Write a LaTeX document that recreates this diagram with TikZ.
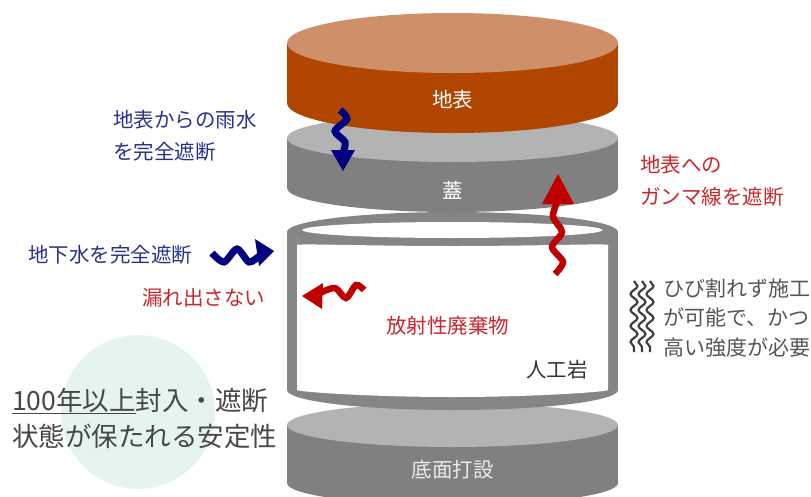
\documentclass[tikz,border=0pt]{standalone}
\usepackage{fontspec}
\setmainfont{Noto Sans CJK JP}
\usepackage{xcolor}
\usetikzlibrary{
	decorations.pathmorphing,   %装饰线(波浪)
	positioning        %定位
}
%颜色
\definecolor{soilTop}{RGB}{207,143,104}
\definecolor{soilSide}{RGB}{176,70,0}
\definecolor{greyTop}{RGB}{179,179,179}
\definecolor{greySide}{RGB}{128,128,128}
\definecolor{ringGrey}{RGB}{133,133,133}
\definecolor{navyArrow}{RGB}{0,0,128}
\definecolor{navyText}{RGB}{40,50,140}
\definecolor{redArrow}{RGB}{192,0,0}
\definecolor{redText}{RGB}{200,40,45}
\definecolor{noteText}{RGB}{85,85,85}
\definecolor{mintBg}{RGB}{230,244,241}
%圆柱体: 中心x, 顶面y, 底面y, 半径x, 半径y, 顶面颜色, 侧面颜色
\newcommand{\cylinderDisk}[7]{%
	\fill[#7] (#1-#4,#2) rectangle (#1+#4,#3);
	\fill[#7] (#1,#3) ellipse[x radius=#4,y radius=#5];
	\fill[#6] (#1,#2) ellipse[x radius=#4,y radius=#5];
}
\tikzset{
	lbl/.style={inner sep=0pt,font=\fontsize{20.5}{32}\selectfont},
	onShape/.style={lbl,text=white},
	blueLbl/.style={lbl,text=navyText,align=left,anchor=west},
	redLbl/.style={lbl,text=redText,align=left,anchor=west},
	greyLbl/.style={inner sep=0pt,text=noteText,align=left,anchor=west,
		font=\fontsize{21}{29.5}\selectfont},
	blueShaft/.style={draw=navyArrow,line width=7pt},
	redShaft/.style={draw=redArrow,line width=6.5pt},
	crackWave/.style={draw=black!75,line width=2.2pt,decorate,
		decoration={snake,amplitude=3.5pt,segment length=16pt}}
}

\begin{document}
\begin{tikzpicture}[x=1pt,y=-1pt]
\useasboundingbox (0,0) rectangle (811,496);
\clip (0,0) rectangle (811,496);
%背景的浅色圆
\fill[mintBg] (138,412) circle[radius=77];
%底面打设
\cylinderDisk{452.5}{425}{483}{165.5}{22}{greyTop}{greySide}
%人工岩(环)
\cylinderDisk{452.5}{232}{390}{165.5}{20}{ringGrey}{ringGrey}
\fill[white] (452.5,230) ellipse[x radius=150,y radius=8];
\fill[white,rounded corners=5pt] (297,240) -- (297,385)
	arc[start angle=180,end angle=0,x radius=155.5,y radius=12] -- (608,240)
	arc[start angle=0,end angle=180,x radius=155.5,y radius=6] -- cycle;
%盖
\cylinderDisk{452.5}{138}{188}{165.5}{24}{greyTop}{greySide}
%地表
\cylinderDisk{452.5}{43}{103}{165.5}{30}{soilTop}{soilSide}

\node[onShape] (surface) at (452.5,100) {地表};
\node[onShape] (lid) at (452.5,190) {蓋};
\node[onShape,text=white!92!black] (base) at (452.5,470) {底面打設};
\node[lbl,text=redText] (waste) at (447.5,326) {放射性廃棄物};
\node[lbl,text=black!80] (rock) at (557,370) {人工岩};

%波浪箭头: 先画波浪线, 再补三角形箭头
\draw[blueShaft] plot[smooth] coordinates {(340,110) (347,119) (335,131) (345,142) (343,153)};
\fill[navyArrow] (343,171) -- (331,150) -- (355,150) -- cycle;
\draw[blueShaft] plot[smooth] coordinates {(212,253) (224,262) (237,249) (249,262) (259,256)};
\fill[navyArrow] (274,251) -- (255,239) -- (259,266) -- cycle;
\draw[redShaft] plot[smooth] coordinates {(364,290) (356,285) (346,298) (335,288) (320,293)};
\fill[redArrow] (302,296) -- (323,283) -- (322,309) -- cycle;
\draw[redShaft] plot[smooth] coordinates {(555,274) (563,262) (552,247) (562,232) (553,217) (557,202)};
\fill[redArrow] (558,174) -- (542,204) -- (574,204) -- cycle;

%说明文字
\node[blueLbl] (rainNote) at (113,136) {地表からの雨水\\を完全遮断};
\node[blueLbl] (groundNote) at (28,255) {地下水を完全遮断};
\node[redLbl] (leakNote) at (142,298) {漏れ出さない};
\node[redLbl] (gammaNote) at (640,181) {地表への\\ガンマ線を遮断};
\node[greyLbl] (crackNote) at (663,318) {ひび割れず施工\\が可能で、かつ\\高い強度が必要};
\foreach \wx in {634,642,650}
	\draw[crackWave] (\wx,281) -- (\wx,352);
\node[inner sep=0pt,text=black!72,align=left,anchor=west,
	font=\fontsize{26.5}{36}\selectfont] (bigNote) at (12,418)
	{\underline{100年以上}封入・遮断\\状態が保たれる安定性};
\end{tikzpicture}
\end{document}
